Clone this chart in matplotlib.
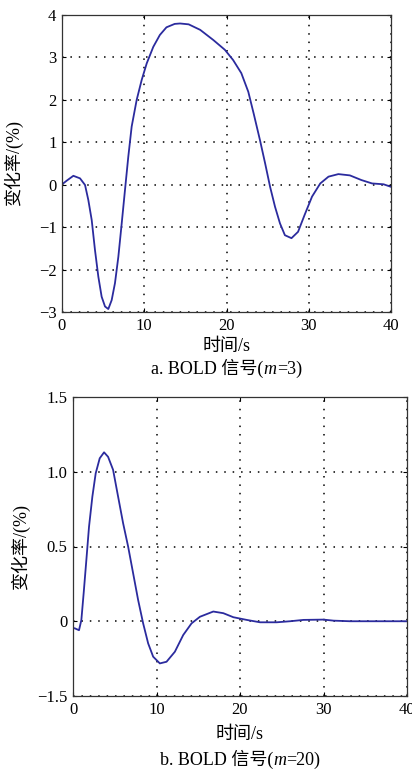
import numpy as np
import matplotlib
matplotlib.use("Agg")
import matplotlib.pyplot as plt
from matplotlib.offsetbox import TextArea, HPacker, AnnotationBbox

plt.rcParams['font.family'] = ['Liberation Serif', 'Noto Sans CJK SC']

# (a) m=3, values
t_a = [0.0, 0.08, 0.57, 1.38, 2.19, 2.8, 3.2, 3.61, 4.01, 4.42, 4.82, 5.23,
       5.63, 6.04, 6.44, 6.85, 7.26, 7.66, 8.06, 8.47, 9.08, 9.69, 10.3, 11.1,
       11.9, 12.7, 13.7, 14.35, 15.4, 16.8, 18.4, 19.8, 20.8, 21.8, 22.65,
       23.3, 24.07, 24.7, 25.3, 25.9, 26.5, 27.1, 27.9, 28.7, 29.5, 30.4, 31.4,
       32.4, 33.6, 35.0, 36.4, 37.7, 39.1, 40.0]
v_a = [0.0, 0.02, 0.095, 0.21, 0.15, -0.006, -0.36, -0.83, -1.54, -2.17,
       -2.64, -2.87, -2.93, -2.72, -2.32, -1.70, -0.91, -0.12, 0.66, 1.37, 2.0,
       2.47, 2.86, 3.25, 3.53, 3.71, 3.79, 3.8, 3.78, 3.65, 3.41, 3.18, 2.94,
       2.63, 2.19, 1.68, 1.05, 0.5, -0.05, -0.52, -0.91, -1.19, -1.26, -1.11,
       -0.71, -0.28, 0.03, 0.19, 0.25, 0.22, 0.11, 0.03, 0.01, -0.05]

# (b) m=20
t_b = [0.0, 0.2, 0.72, 1.0, 1.28, 1.6, 1.92, 2.32, 2.72, 3.2, 3.72, 4.2, 4.8,
       5.4, 6.0, 6.6, 7.2, 7.8, 8.4, 9.0, 9.6, 10.4, 11.2, 12.2, 13.2, 14.2,
       15.2, 16.8, 18.0, 19.2, 20.8, 22.4, 24.4, 26.0, 27.6, 30.0, 31.2, 33.2,
       40.0]
v_b = [-0.047, -0.047, -0.06, 0.008, 0.19, 0.41, 0.633, 0.834, 0.99, 1.09,
       1.13, 1.10, 1.013, 0.834, 0.656, 0.5, 0.321, 0.142, -0.014, -0.148,
       -0.237, -0.282, -0.271, -0.204, -0.092, -0.014, 0.03, 0.065, 0.054,
       0.027, 0.009, -0.007, -0.007, 0.0, 0.009, 0.011, 0.004, 0.0, 0.0]

xticks = [0, 10, 20, 30, 40]
yticks_a = [-3, -2, -1, 0, 1, 2, 3, 4]
yticks_a_lbl = ['\u22123', '\u22122', '\u22121', '0', '1', '2', '3', '4']
yticks_b = [-0.5, 0, 0.5, 1.0, 1.5]
yticks_b_lbl = ['\u22121.5', '0', '0.5', '1.0', '1.5']

W, H = 412, 769
fig = plt.figure(figsize=(W / 100, H / 100), dpi=100)

def box(l, t, r, b):
    return [l / W, 1 - b / H, (r - l) / W, (b - t) / H]

def style(ax):
    ax.grid(True, linestyle=(0, (1, 4.5)), color='black', linewidth=1.1)
    ax.tick_params(direction='in', top=True, right=True, length=3,
                   labelsize=12, pad=4)
    for s in ax.spines.values():
        s.set_linewidth(0.9)
        s.set_color('#333333')

def caption(x, y, parts, size=13):
    kids = [TextArea(s, textprops=dict(fontsize=size, style=st)) for s, st in parts]
    pack = HPacker(children=kids, align='baseline', pad=0, sep=0)
    ab = AnnotationBbox(pack, (x / W, 1 - y / H), xycoords='figure fraction',
                        frameon=False, box_alignment=(0.5, 0.5), pad=0)
    fig.add_artist(ab)

line_col = '#2b2b9e'

ax1 = fig.add_axes(box(62, 15, 391, 312))
ax1.plot(t_a, v_a, color=line_col, lw=1.3)
ax1.set_xlim(0, 40)
ax1.set_ylim(-3, 4)
ax1.set_xticks(xticks)
ax1.set_yticks(yticks_a)
ax1.set_yticklabels(yticks_a_lbl)
style(ax1)
ax1.set_ylabel('变化率/(%)', fontsize=13)
ax1.yaxis.set_label_coords((23 - 62) / 329, 0.5)

ax2 = fig.add_axes(box(73, 397, 407, 696))
ax2.plot(t_b, v_b, color=line_col, lw=1.3)
ax2.set_xlim(0, 40)
ax2.set_ylim(-0.5, 1.5)
ax2.set_xticks(xticks)
ax2.set_yticks(yticks_b)
ax2.set_yticklabels(yticks_b_lbl)
style(ax2)
ax2.set_ylabel('变化率/(%)', fontsize=13)
ax2.yaxis.set_label_coords((30 - 73) / 334, 0.5)

fig.text(226.5 / W, 1 - 346 / H, '时间/s', ha='center', va='center', fontsize=13)
caption(226.5, 368, [('a. BOLD 信号(', 'normal'), ('m', 'italic'), ('=3)', 'normal')])
fig.text(240 / W, 1 - 735 / H, '时间/s', ha='center', va='center', fontsize=13)
caption(240, 759, [('b. BOLD 信号(', 'normal'), ('m', 'italic'), ('=20)', 'normal')])

fig.savefig('out.png', dpi=100)
